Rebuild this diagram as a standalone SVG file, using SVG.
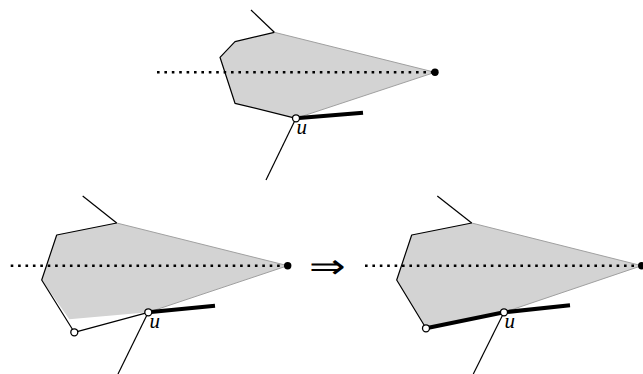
<svg xmlns="http://www.w3.org/2000/svg" width="643" height="374" viewBox="0 0 643 374">
<style>
.fill{fill:#d3d3d3;stroke:none}
.gray{fill:none;stroke:#a0a0a0;stroke-width:1}
.thin{fill:none;stroke:#000;stroke-width:1.2;stroke-linejoin:round}
.thick{fill:none;stroke:#000;stroke-width:4}
.dots{fill:none;stroke:#000;stroke-width:2.6;stroke-dasharray:2.6 4.8}
.tip{fill:#000}
.open{fill:#fff;stroke:#000;stroke-width:1.3}
.lab{font-family:"Liberation Serif",serif;font-style:italic;font-size:21px;fill:#000}
.arr{font-family:"DejaVu Sans",sans-serif;font-weight:200;font-size:34px;fill:#000}
</style>
<g id="top">
<polygon class="fill" points="274.3,32.3 235,41.7 220,57.3 235,103.3 296,118.3 435,72.3"/>
<polyline class="gray" points="296,118.3 435,72.3 274.3,32.3"/>
<g id="connectors-top">
<line class="thin" x1="251" y1="10" x2="274.3" y2="32.3"/>
<polyline class="thin" points="274.3,32.3 235,41.7 220,57.3 235,103.3 296,118.3"/>
<line class="thin" x1="296" y1="118.3" x2="266" y2="180"/>
<line class="thick" x1="296" y1="118.3" x2="363" y2="112.7"/>
<line class="dots" x1="157" y1="72.3" x2="435" y2="72.3"/>
</g>
<circle id="top-tip" class="tip" cx="435" cy="72.3" r="3.7"/>
<circle id="top-u" class="open" cx="296" cy="118.3" r="3.5"/>
<text class="lab" x="296.5" y="134">u</text>
</g>
<g id="left">
<polygon class="fill" points="116.7,223 56.7,235 41.7,280 69.3,319.3 148.3,312.3 287.7,265.7"/>
<polyline class="gray" points="148.3,312.3 287.7,265.7 116.7,223"/>
<g id="connectors-left">
<line class="thin" x1="82.7" y1="196" x2="116.7" y2="223"/>
<polyline class="thin" points="116.7,223 56.7,235 41.7,280 74.3,332.3 148.3,312.3"/>
<line class="thin" x1="148.3" y1="312.3" x2="118" y2="374"/>
<line class="thick" x1="148.3" y1="312.3" x2="215" y2="305.7"/>
<line class="dots" x1="10.7" y1="265.7" x2="287.7" y2="265.7"/>
</g>
<circle id="left-tip" class="tip" cx="287.7" cy="265.7" r="3.7"/>
<circle id="left-w" class="open" cx="74.3" cy="332.3" r="3.5"/>
<circle id="left-u" class="open" cx="148.3" cy="312.3" r="3.5"/>
<text class="lab" x="149.5" y="328">u</text>
</g>
<g id="implies">
<text class="arr" x="327" y="278" text-anchor="middle" textLength="36" lengthAdjust="spacingAndGlyphs">⇒</text>
</g>
<g id="right">
<polygon class="fill" points="471.7,223 411.7,235 396.7,280 426,328.3 504,312.3 641.7,265.7"/>
<polyline class="gray" points="504,312.3 641.7,265.7 471.7,223"/>
<g id="connectors-right">
<line class="thin" x1="437.3" y1="196" x2="471.7" y2="223"/>
<polyline class="thin" points="471.7,223 411.7,235 396.7,280 426,328.3"/>
<line class="thin" x1="504" y1="312.3" x2="473.3" y2="374"/>
<line class="thick" x1="426" y1="328.3" x2="504" y2="312.3"/>
<line class="thick" x1="504" y1="312.3" x2="570" y2="305.3"/>
<line class="dots" x1="365" y1="265.7" x2="641.7" y2="265.7"/>
</g>
<circle id="right-tip" class="tip" cx="641.7" cy="265.7" r="3.7"/>
<circle id="right-w" class="open" cx="426" cy="328.3" r="3.5"/>
<circle id="right-u" class="open" cx="504" cy="312.3" r="3.5"/>
<text class="lab" x="504.5" y="328">u</text>
</g>
</svg>
